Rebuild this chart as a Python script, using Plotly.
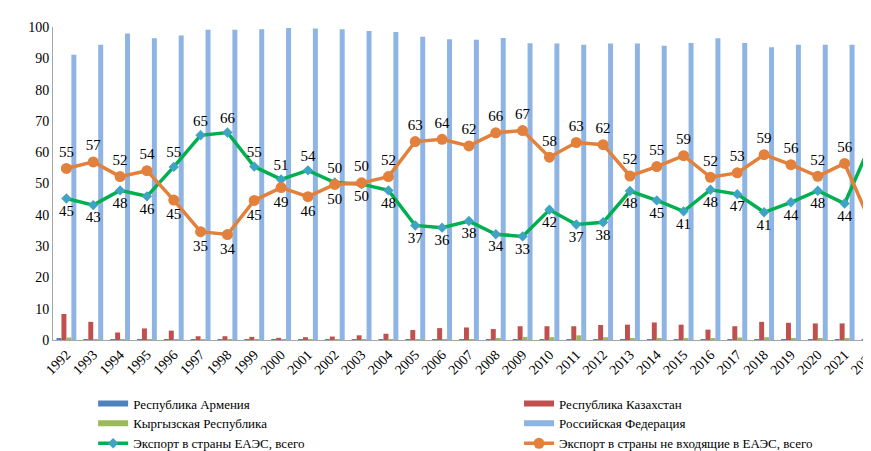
import plotly.graph_objects as go

years = [str(y) for y in range(1992, 2023)]

armenia = [0.4, 0.2, 0.1, 0.1, 0.1, 0.1, 0.1, 0.1, 0.1, 0.1, 0.1, 0.1, 0.1, 0.2, 0.2,
           0.2, 0.2, 0.3, 0.3, 0.2, 0.2, 0.1, 0.1, 0.2, 0.1, 0.2, 0.2, 0.3, 0.3, 0.1, 0.1]
kazakhstan = [8.3, 5.8, 2.4, 3.7, 3.0, 1.2, 1.2, 1.0, 0.7, 0.9, 1.1, 1.5, 2.0, 3.2, 3.8,
              4.0, 3.5, 4.4, 4.4, 4.4, 4.8, 4.9, 5.6, 4.9, 3.3, 4.4, 5.8, 5.5, 5.3, 5.3, 4.3]
kyrgyz = [0.8, 0.2, 0.1, 0.1, 0.1, 0.1, 0.1, 0.1, 0.1, 0.1, 0.1, 0.1, 0.1, 0.2, 0.2,
          0.2, 0.4, 1.0, 0.9, 1.5, 0.9, 0.5, 0.5, 0.5, 0.4, 0.8, 0.9, 0.4, 0.4, 0.5, 0.4]
russia = [91.1, 94.3, 97.9, 96.4, 97.3, 99.1, 99.1, 99.3, 99.7, 99.5, 99.3, 98.7, 98.4, 96.9, 96.1,
          95.9, 96.5, 94.8, 94.7, 94.3, 94.7, 94.7, 94.0, 94.9, 96.4, 94.9, 93.5, 94.3, 94.3, 94.3, 95.0]

eaeu = [45.2, 43.1, 47.8, 45.9, 55.3, 65.4, 66.3, 55.4, 51.3, 54.2, 50.3, 49.8, 47.8, 36.6, 35.9,
        38.0, 33.8, 33.1, 41.6, 36.9, 37.6, 47.6, 44.6, 41.1, 48.0, 46.6, 40.8, 44.0, 47.7, 43.6, 63.2]
non_eaeu = [54.8, 56.9, 52.2, 54.1, 44.7, 34.6, 33.7, 44.6, 48.7, 45.8, 49.7, 50.2, 52.2, 63.4, 64.1,
            62.0, 66.2, 66.9, 58.4, 63.1, 62.4, 52.4, 55.4, 58.9, 52.0, 53.4, 59.2, 56.0, 52.3, 56.4, 36.8]

names = ["Республика Армения", "Республика Казахстан", "Кыргызская Республика",
         "Российская Федерация", "Экспорт в страны ЕАЭС, всего",
         "Экспорт в страны не входящие в ЕАЭС, всего"]
bar_colors = ["#4F81BD", "#C0504D", "#9BBB59", "#8DB4E2"]
bar_legend = ["legend", "legend2", "legend", "legend2"]

FONT = "Times New Roman, Liberation Serif, Tinos, DejaVu Serif, serif"

pos_eaeu = ["top center" if a > b else "bottom center" for a, b in zip(eaeu, non_eaeu)]
pos_non = ["top center" if b > a else "bottom center" for a, b in zip(eaeu, non_eaeu)]

fig = go.Figure()
for vals, name, color in zip([armenia, kazakhstan, kyrgyz, russia], names[:4], bar_colors):
    fig.add_trace(go.Bar(x=years, y=vals, name=name, showlegend=False,
                         marker=dict(color=color, line=dict(width=0))))

# legend entries for the bar series (wide rectangular swatches)
for name, color, lg in zip(names[:4], bar_colors, bar_legend):
    fig.add_trace(go.Scatter(x=[None], y=[None], name=name, mode="lines",
                             line=dict(color=color, width=6), legend=lg))

fig.add_trace(go.Scatter(x=years, y=eaeu, name=names[4], mode="lines+markers+text",
                         line=dict(color="#00B050", width=3.5),
                         marker=dict(symbol="diamond", size=8, color="#3FA3C4"),
                         texttemplate="%{y:.0f}", textposition=pos_eaeu,
                         textfont=dict(family=FONT, size=15, color="black"),
                         legend="legend"))
fig.add_trace(go.Scatter(x=years, y=non_eaeu, name=names[5], mode="lines+markers+text",
                         line=dict(color="#E2803C", width=3.5),
                         marker=dict(symbol="circle", size=11, color="#E2803C"),
                         texttemplate="%{y:.0f}", textposition=pos_non,
                         textfont=dict(family=FONT, size=15, color="black"),
                         legend="legend2"))

leg_common = dict(orientation="v", yanchor="top", y=-0.155, xanchor="left",
                  font=dict(family=FONT, size=13, color="black"), tracegroupgap=0,
                  bgcolor="rgba(0,0,0,0)")

fig.update_layout(
    width=871, height=451,
    margin=dict(l=45, r=0, t=19, b=109),
    paper_bgcolor="white", plot_bgcolor="white",
    barmode="group", bargap=0.26, bargroupgap=0,
    font=dict(family=FONT, size=13, color="black"),
    showlegend=True,
    legend=dict(x=0.049, **leg_common),
    legend2=dict(x=0.569, **leg_common),
    xaxis=dict(type="category", range=[-0.5, 30.02], tickangle=-45, showgrid=False,
               showline=True, linecolor="#A6A6A6", linewidth=1, ticks="",
               tickfont=dict(family=FONT, size=14)),
    yaxis=dict(range=[0, 100], dtick=10, showgrid=False, zeroline=False,
               showline=True, linecolor="#A6A6A6", linewidth=1, ticks="",
               tickfont=dict(family=FONT, size=14)),
)

fig.write_html("out.html")
